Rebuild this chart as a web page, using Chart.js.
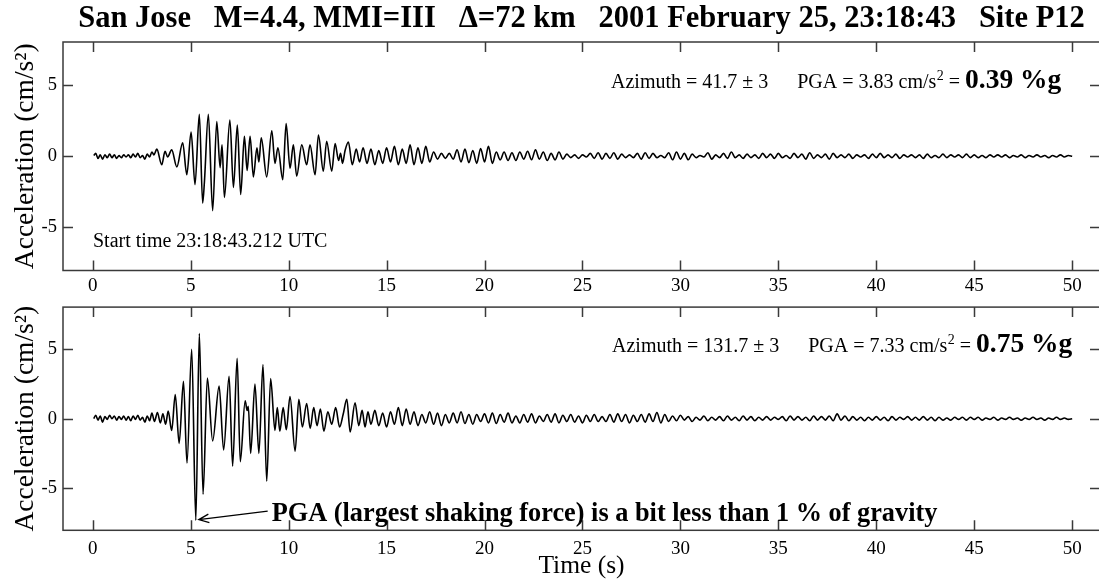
<!DOCTYPE html>
<html>
<head>
<meta charset="utf-8">
<script src="https://cdn.jsdelivr.net/npm/chart.js@4.4.1/dist/chart.umd.min.js"></script>
<style>
  html, body { margin: 0; padding: 0; background: #fff; overflow: hidden; width: 1099px; height: 582px; }
  canvas { position: absolute; left: 0; }
  #c1 { top: 0; }
  #c2 { top: 290px; }
</style>
</head>
<body>
<canvas id="c1" width="1102" height="300"></canvas>
<canvas id="c2" width="1102" height="292"></canvas>
<script>
// ---------- DATA ----------
const titleText = 'San Jose   M=4.4, MMI=III   \u0394=72 km   2001 February 25, 23:18:43   Site P12';
const yTitle = 'Acceleration (cm/s\u00B2)';
const xTitle = 'Time (s)';
const xTicks = [0, 5, 10, 15, 20, 25, 30, 35, 40, 45, 50];
const yTicks = [-5, 0, 5];
const startTimeText = 'Start time 23:18:43.212 UTC';
const azimuth1 = 'Azimuth = 41.7 \u00B1 3';
const pga1 = '3.83';
const pctg1 = '0.39';
const azimuth2 = 'Azimuth = 131.7 \u00B1 3';
const pga2 = '7.33';
const pctg2 = '0.75';
const pgaNote = 'PGA (largest shaking force) is a bit less than 1 % of gravity';
const pgaPoint = [5.26, -7.33];

// Panel 1 (azimuth 41.7): strong-motion part, explicit times
const time1 = [0.05,0.15,0.27,0.38,0.5,0.62,0.74,0.86,0.98,1.1,1.22,1.34,1.46,1.58,1.7,1.82,1.94,2.06,2.18,2.3,2.42,2.54,2.66,2.78,2.9,3.02,3.12,3.27,3.52,3.69,3.82,4.03,4.29,4.59,4.8,5.02,5.22,5.44,5.61,5.7,5.9,6.12,6.33,6.5,6.6,6.72,7.0,7.18,7.38,7.55,7.74,7.88,8.03,8.2,8.38,8.48,8.6,8.88,9.14,9.3,9.45,9.7,9.87,10.07,10.24,10.41,10.67,10.92,11.09,11.35,11.52,11.77,11.94,12.2,12.37,12.55,12.65,12.75,12.88,13.05,13.25,13.45,13.62,13.8,14.0];
const accel1 = [0.05,0.2,-0.15,0.1,-0.2,0.1,-0.1,0.15,-0.1,0.1,-0.15,0.05,-0.1,0.1,-0.05,0.1,-0.1,0.15,-0.05,0.2,-0.1,0.05,-0.2,0.15,-0.05,0.3,0.1,0.5,-0.6,0.35,-0.05,0.45,-0.75,0.95,-1.3,1.7,-2.0,2.95,-3.3,-1.8,2.95,-3.83,2.45,-0.8,0.8,-2.9,2.55,-2.2,2.2,-2.7,1.4,-1.0,1.4,-1.45,0.6,-0.4,1.3,-1.45,1.8,-0.5,0.6,-1.65,2.3,-0.85,0.8,-1.4,0.8,-0.6,0.8,-1.3,1.5,-1.05,1.05,-1.05,0.9,-0.3,0.2,-0.5,0.4,1.0,-0.6,0.5,-0.4,0.6,-0.5];
// Panel 1 coda: samples every 0.2 s from 14.2 s to 50.0 s
const codaStart = 14.2;
const codaStep = 0.2;
const coda1 = [
  0.5,-0.6,0.4,-0.5,0.6,-0.4,0.7,-0.6,0.5,-0.5,
  0.8,-0.6,0.6,-0.5,0.7,-0.4,0.3,-0.2,0.2,-0.15,
  0.2,-0.2,0.45,-0.4,0.5,-0.45,0.4,-0.5,0.55,-0.4,
  0.7,-0.5,0.3,-0.25,0.3,-0.3,0.25,-0.3,0.3,-0.2,
  0.35,-0.25,0.45,-0.2,0.3,-0.3,0.2,-0.25,0.3,-0.2,
  0.15,-0.1,0.1,-0.15,0.1,-0.05,0.2,-0.15,0.25,-0.2,
  0.2,-0.15,0.25,-0.2,0.15,-0.1,0.1,-0.1,0.2,-0.2,
  0.25,-0.15,0.2,-0.1,0.05,-0.1,0.25,-0.25,0.3,-0.2,
  0.2,-0.25,0.15,-0.1,0.05,-0.05,0.25,-0.2,0.1,-0.1,
  0.2,-0.15,0.3,-0.1,0.1,-0.15,0.15,-0.1,0.1,-0.15,
  0.2,-0.1,0.15,-0.15,0.2,-0.1,0.05,-0.15,0.2,-0.1,
  0.15,-0.2,0.25,-0.15,0.1,-0.1,0.15,-0.2,0.2,-0.1,
  0.1,-0.1,0.15,-0.15,0.1,-0.05,0.1,-0.15,0.15,-0.1,
  0.2,-0.1,0.1,-0.1,0.15,-0.15,0.1,-0.05,0.1,-0.1,
  0.1,-0.15,0.15,-0.1,0.05,-0.1,0.15,-0.1,0.1,-0.05,
  0.1,-0.1,0.15,-0.1,0.1,-0.1,0.05,-0.1,0.1,-0.05,
  0.1,-0.05,0.1,-0.1,0.05,-0.05,0.1,-0.1,0.05,-0.05,
  0.1,-0.05,0.05,-0.1,0.05,-0.05,0.1,-0.05,0.05,0.0
];

// Panel 2 (azimuth 131.7): strong-motion part, explicit times
const time2 = [0.05,0.15,0.27,0.38,0.5,0.62,0.74,0.86,0.98,1.1,1.22,1.34,1.46,1.58,1.7,1.82,1.94,2.06,2.18,2.3,2.42,2.54,2.66,2.78,2.9,3.02,3.15,3.3,3.45,3.58,3.72,3.85,4.03,4.21,4.41,4.63,4.81,5.05,5.26,5.44,5.63,5.85,6.12,6.45,6.68,6.96,7.14,7.37,7.53,7.78,7.88,7.94,8.06,8.28,8.48,8.69,8.88,9.08,9.3,9.42,9.55,9.72,9.88,10.07,10.33,10.52,10.7,10.92,11.1,11.28,11.45,11.62,11.8,12.0,12.2,12.4,12.6,12.78,12.97,13.14,13.39,13.58,13.75,13.9,14.05];
const accel2 = [0.0,0.25,-0.1,0.2,-0.25,0.15,-0.05,0.25,0.0,0.2,-0.1,0.15,-0.05,0.2,-0.1,0.15,-0.15,0.2,-0.05,0.25,-0.1,0.1,-0.25,0.2,-0.15,0.4,-0.2,0.45,-0.3,0.35,-0.4,0.55,-0.85,1.75,-1.78,2.7,-3.2,5.0,-7.33,6.15,-5.45,2.93,-1.6,2.35,-2.25,3.05,-3.42,4.35,-3.1,1.3,0.6,0.9,-2.5,2.5,-2.5,3.9,-4.5,2.9,-0.85,0.8,-0.9,0.8,-0.8,1.6,-2.35,1.4,-0.6,1.1,-0.7,0.8,-0.5,0.7,-0.9,0.5,-0.4,0.8,-0.6,0.3,1.4,-0.95,1.15,-0.5,0.6,-0.6,0.5];
// Panel 2 coda: samples every 0.2 s from 14.2 s to 50.0 s
const coda2 = [
  -0.4,0.6,-0.5,0.4,-0.6,0.5,-0.4,0.8,-0.5,0.7,
  -0.4,0.5,-0.5,0.3,-0.3,0.5,-0.4,0.4,-0.5,0.3,
  -0.3,0.4,-0.3,0.5,-0.35,0.3,-0.4,0.3,-0.2,0.35,
  -0.3,0.4,-0.35,0.3,-0.25,0.4,-0.3,0.2,-0.3,0.3,
  -0.25,0.35,-0.3,0.2,-0.2,0.3,-0.25,0.35,-0.3,0.25,
  -0.2,0.3,-0.25,0.2,-0.3,0.25,-0.2,0.3,-0.2,0.15,
  -0.2,0.3,-0.25,0.35,-0.2,0.3,-0.3,0.25,-0.2,0.3,
  -0.25,0.35,-0.2,0.45,-0.3,0.3,-0.2,0.2,-0.15,0.25,
  -0.1,0.15,-0.2,0.1,-0.1,0.2,-0.15,0.1,-0.1,0.15,
  -0.15,0.2,-0.1,0.1,-0.15,0.2,-0.1,0.15,-0.15,0.1,
  -0.1,0.15,-0.1,0.1,-0.05,0.15,-0.15,0.2,-0.1,0.15,
  -0.1,0.1,-0.15,0.2,-0.1,0.15,-0.1,0.2,-0.15,0.35,
  -0.1,0.2,-0.15,0.15,-0.1,0.1,-0.15,0.1,-0.1,0.15,
  -0.1,0.1,-0.15,0.15,-0.1,0.1,-0.05,0.15,-0.1,0.1,
  -0.1,0.15,-0.1,0.1,-0.15,0.1,-0.1,0.05,-0.1,0.1,
  -0.05,0.1,-0.1,0.1,-0.05,0.1,-0.1,0.05,-0.05,0.1,
  -0.1,0.05,-0.05,0.1,-0.05,0.05,-0.1,0.05,-0.05,0.1,
  -0.05,0.05,-0.1,0.05,-0.05,0.1,-0.05,0.05,-0.05,0.0
];

// ---------- BUILD ----------
function buildSeries(times, values, coda) {
  const pts = times.map((t, i) => ({ x: t, y: values[i] }));
  coda.forEach((v, i) => pts.push({ x: +(codaStart + i * codaStep).toFixed(2), y: v }));
  return pts;
}

const SERIF = '"Liberation Serif", "Times New Roman", serif';
const FRAME = '#3a3a3a';

const frameTicks = {
  id: 'frameTicks',
  afterDatasetsDraw(chart) {
    const { ctx, chartArea: a, scales: { x, y } } = chart;
    ctx.save();
    ctx.strokeStyle = FRAME;
    ctx.lineWidth = 1.5;
    ctx.strokeRect(a.left, a.top, a.right - a.left, a.bottom - a.top);
    ctx.beginPath();
    x.ticks.forEach(t => {
      const px = Math.round(x.getPixelForValue(t.value)) + 0.5;
      ctx.moveTo(px, a.top); ctx.lineTo(px, a.top + 10);
      ctx.moveTo(px, a.bottom); ctx.lineTo(px, a.bottom - 10);
    });
    y.ticks.forEach(t => {
      const py = Math.round(y.getPixelForValue(t.value)) + 0.5;
      ctx.moveTo(a.left, py); ctx.lineTo(a.left + 10, py);
      ctx.moveTo(a.right, py); ctx.lineTo(a.right - 10, py);
    });
    ctx.stroke();
    ctx.restore();
  }
};

function drawPgaLine(ctx, x, y, az, pga, pct) {
  ctx.fillStyle = '#000';
  ctx.textAlign = 'left';
  ctx.textBaseline = 'alphabetic';
  ctx.font = '20px ' + SERIF;
  ctx.fillText(az, x, y);
  x += ctx.measureText(az).width + 29;
  const s = 'PGA = ' + pga + ' cm/s';
  ctx.fillText(s, x, y);
  x += ctx.measureText(s).width;
  ctx.font = '14px ' + SERIF;
  ctx.fillText('2', x + 0.5, y - 8.5);
  x += ctx.measureText('2').width + 0.5;
  ctx.font = '20px ' + SERIF;
  ctx.fillText(' = ', x, y);
  x += ctx.measureText(' = ').width;
  ctx.font = 'bold 27.5px ' + SERIF;
  ctx.fillText(pct + ' %g', x, y);
}

const notes1 = {
  id: 'notes1',
  afterDraw(chart) {
    const { ctx, chartArea: a } = chart;
    ctx.save();
    drawPgaLine(ctx, a.left + 548, a.top + 46, azimuth1, pga1, pctg1);
    ctx.font = '20px ' + SERIF;
    ctx.fillText(startTimeText, a.left + 30, a.top + 204.5);
    ctx.restore();
  }
};

const notes2 = {
  id: 'notes2',
  afterDraw(chart) {
    const { ctx, chartArea: a, scales: { x, y } } = chart;
    ctx.save();
    drawPgaLine(ctx, a.left + 549, a.top + 45.3, azimuth2, pga2, pctg2);
    const tx = a.left + 208.7, ty = a.top + 214;
    ctx.font = 'bold 26.3px ' + SERIF;
    ctx.fillText(pgaNote, tx, ty);
    // arrow to the PGA point
    const ex = x.getPixelForValue(pgaPoint[0]) + 3;
    const ey = y.getPixelForValue(pgaPoint[1]) - 0.7;
    const sx = tx - 4, sy = ty - 10;
    ctx.strokeStyle = '#000';
    ctx.lineWidth = 1.3;
    ctx.beginPath();
    ctx.moveTo(sx, sy); ctx.lineTo(ex, ey);
    const ang = Math.atan2(ey - sy, ex - sx);
    const L = 11, w = 0.4;
    ctx.moveTo(ex - L * Math.cos(ang - w), ey - L * Math.sin(ang - w));
    ctx.lineTo(ex, ey);
    ctx.lineTo(ex - L * Math.cos(ang + w), ey - L * Math.sin(ang + w));
    ctx.stroke();
    ctx.restore();
  }
};

function makeOptions(xPad, xHeight, withXTitle, withTitle, topPad) {
  return {
    responsive: false,
    animation: false,
    devicePixelRatio: 1,
    layout: { padding: { top: topPad, right: 2, bottom: 0, left: 0 } },
    plugins: {
      legend: { display: false },
      tooltip: { enabled: false },
      title: {
        display: withTitle,
        text: titleText,
        fullSize: false,
        color: '#000',
        font: { family: SERIF, size: 30.5, weight: 'bold' },
        padding: { top: 0.5, bottom: 4.9 }
      }
    },
    elements: { point: { radius: 0 } },
    scales: {
      x: {
        type: 'linear',
        min: -1.52,
        max: 51.42,
        grid: { display: false, drawTicks: false },
        border: { display: false },
        afterBuildTicks: s => { s.ticks = xTicks.map(v => ({ value: v })); },
        afterFit: s => { s.height = xHeight; },
        ticks: {
          color: '#000',
          font: { family: SERIF, size: 19 },
          padding: xPad,
          maxRotation: 0,
          autoSkip: false,
          callback: v => String(v)
        },
        title: {
          display: withXTitle,
          text: xTitle,
          color: '#000',
          font: { family: SERIF, size: 25.5 },
          padding: { top: 0, bottom: 0 }
        }
      },
      y: {
        type: 'linear',
        min: -8.05,
        max: 8.05,
        grid: { display: false, drawTicks: false },
        border: { display: false },
        afterBuildTicks: s => { s.ticks = yTicks.map(v => ({ value: v })); },
        afterFit: s => { s.width = 63; },
        ticks: {
          color: '#000',
          font: { family: SERIF, size: 18.5 },
          padding: 6,
          callback: v => String(v)
        },
        title: {
          display: true,
          text: yTitle,
          color: '#000',
          font: { family: SERIF, size: 27.5 },
          padding: { top: 9, bottom: 0 }
        }
      }
    }
  };
}

function dataset(pts) {
  return {
    data: pts,
    borderColor: '#000',
    borderWidth: 1.6,
    pointRadius: 0,
    fill: false,
    cubicInterpolationMode: 'monotone'
  };
}

new Chart(document.getElementById('c1'), {
  type: 'line',
  data: { datasets: [dataset(buildSeries(time1, accel1, coda1))] },
  options: makeOptions(4.6, 29.5, false, true, 0),
  plugins: [frameTicks, notes1]
});

new Chart(document.getElementById('c2'), {
  type: 'line',
  data: { datasets: [dataset(buildSeries(time2, accel2, coda2))] },
  options: makeOptions(7.3, 51.7, true, false, 11.7),
  plugins: [frameTicks, notes2]
});
</script>
</body>
</html>
